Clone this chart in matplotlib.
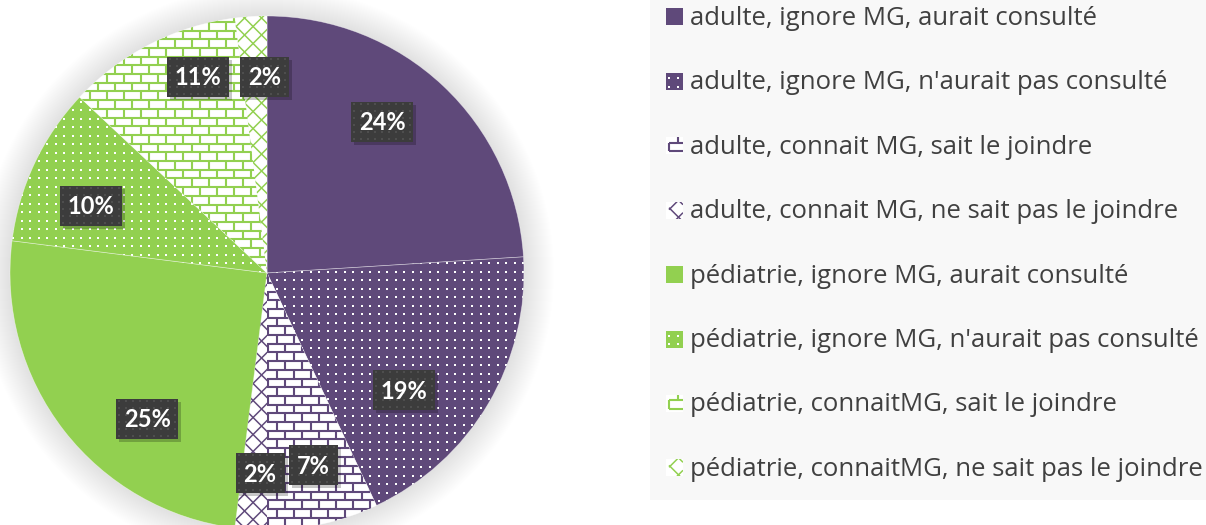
import numpy as np
import matplotlib.pyplot as plt
from matplotlib.patches import Rectangle, Circle
from matplotlib.collections import LineCollection

categories = [
    "adulte, ignore MG, aurait consulté",
    "adulte, ignore MG, n'aurait pas consulté",
    "adulte, connait MG, sait le joindre",
    "adulte, connait MG, ne sait pas le joindre",
    "pédiatrie, ignore MG, aurait consulté",
    "pédiatrie, ignore MG, n'aurait pas consulté",
    "pédiatrie, connaitMG, sait le joindre",
    "pédiatrie, connaitMG, ne sait pas le joindre",
]
values = [24, 19, 7, 2, 25, 10, 11, 2]

PURPLE = '#5F497A'
GREEN = '#92D050'
slice_colors = [PURPLE] * 4 + [GREEN] * 4
patterns = ['solid', 'dots', 'bricks', 'lattice'] * 2

# label placement (radius fraction, angle nudge in degrees)
label_r = [0.74, 0.70, 0.77, 0.78, 0.735, 0.733, 0.81, 0.763]
label_nudge = [6, -10, 1, 1.6, 12.8, 4.3, -7.6, -3]

W, H = 1206, 525
CX, CY, R = 267, 273, 257
PX = 1.0 / R
PT = 0.72  # points per pixel at dpi 100


def to_data(x, y):
    return (x - CX) / R, (CY - y) / R


fig = plt.figure(figsize=(W / 100, H / 100), dpi=100)
ax = fig.add_axes([0, 0, 1, 1])


def texture(kind, color, clip, box, z, spacing=8.5):
    x0, x1, y0, y1 = box
    if kind == 'dots':
        xs = np.arange(x0, x1, spacing * PX)
        ys = np.arange(y0, y1, spacing * PX)
        gx, gy = np.meshgrid(xs, ys)
        art = ax.scatter(gx.ravel(), gy.ravel(), s=2.4, c=color, marker='s',
                         linewidths=0, zorder=z)
    elif kind == 'bricks':
        rh, bw = 8.7 * PX, 17 * PX
        rows = np.arange(y0, y1 + rh, rh)
        segs = [[(x0, y), (x1, y)] for y in rows]
        for i, y in enumerate(rows[:-1]):
            off = 0 if i % 2 == 0 else bw / 2
            for x in np.arange(x0 - off, x1, bw):
                segs.append([(x, y), (x, y + rh)])
        art = LineCollection(segs, colors=color, linewidths=2.1 * PT, zorder=z)
        ax.add_collection(art)
    elif kind == 'lattice':
        step = 17 * PX
        span = (x1 - x0) + (y1 - y0)
        segs = []
        for c in np.arange(-span, span, step):
            segs.append([(x0, y0 + c), (x1, y0 + c + (x1 - x0))])
            segs.append([(x0, y1 - c), (x1, y1 - c - (x1 - x0))])
        art = LineCollection(segs, colors=color, linewidths=1.5 * PT, zorder=z)
        ax.add_collection(art)
    else:
        return
    art.set_clip_path(clip)


# soft shadow around the pie
for k in range(30, 0, -1):
    ax.add_patch(Circle((0, 0), 1 + k * PX, color='black', alpha=0.005,
                        lw=0, zorder=0))

face = [c if p in ('solid', 'dots') else 'white'
        for c, p in zip(slice_colors, patterns)]
wedges, _ = ax.pie(values, colors=face, startangle=90, counterclock=False,
                   radius=1, wedgeprops=dict(linewidth=0.5, edgecolor='#FFFFFF80'))
for w in wedges:
    w.set_zorder(1)

for w, c, p in zip(wedges, slice_colors, patterns):
    tex_col = 'white' if p == 'dots' else c
    texture(p, tex_col, w, (-1.02, 1.02, -1.02, 1.02), 2)

# data labels
for i, (w, v) in enumerate(zip(wedges, values)):
    s = f"{v}%"
    ang = np.deg2rad((w.theta1 + w.theta2) / 2 + label_nudge[i])
    lx, ly = label_r[i] * np.cos(ang), label_r[i] * np.sin(ang)
    bw, bh = (13 * len(s) + 23) * PX, 40 * PX
    ax.add_patch(Rectangle((lx - bw / 2 + 3 * PX, ly - bh / 2 - 3 * PX), bw, bh,
                           color='black', alpha=0.22, lw=0, zorder=5))
    box = Rectangle((lx - bw / 2, ly - bh / 2), bw, bh, facecolor='#3C3C3C',
                    lw=0, zorder=6)
    ax.add_patch(box)
    texture('dots', '#4E4E4E', box, (lx - bw / 2 + 3 * PX, lx + bw / 2,
                                     ly - bh / 2 + 3 * PX, ly + bh / 2), 7, spacing=7)
    ax.text(lx, ly - 1 * PX, s, ha='center', va='center', color='white',
            fontsize=17, fontweight='bold', family='Lato', zorder=8)

# legend
bx0, by0 = to_data(650, 500)
bx1, by1 = to_data(W, 0)
ax.add_patch(Rectangle((bx0, by0), bx1 - bx0, by1 - by0, facecolor='#F8F8F8',
                       lw=0, zorder=0))
for i, (name, c, p) in enumerate(zip(categories, slice_colors, patterns)):
    yc = 17 + 64.4 * i
    sx, sy = to_data(666, yc + 8.5)
    sq = Rectangle((sx, sy), 17 * PX, 17 * PX, lw=0, zorder=3,
                   facecolor=c if p in ('solid', 'dots') else 'white')
    ax.add_patch(sq)
    texture(p, 'white' if p == 'dots' else c, sq,
            (sx + 3 * PX, sx + 17 * PX, sy + 3 * PX, sy + 17 * PX), 4)
    tx, ty = to_data(690, yc + 8)
    ax.text(tx, ty, name, ha='left', va='baseline', color='#404040',
            fontsize=18.5, family='Open Sans', zorder=4)

ax.set_xlim(-CX / R, (W - CX) / R)
ax.set_ylim((CY - H) / R, CY / R)
ax.axis('off')

fig.savefig('out.png', dpi=100, facecolor='white')
